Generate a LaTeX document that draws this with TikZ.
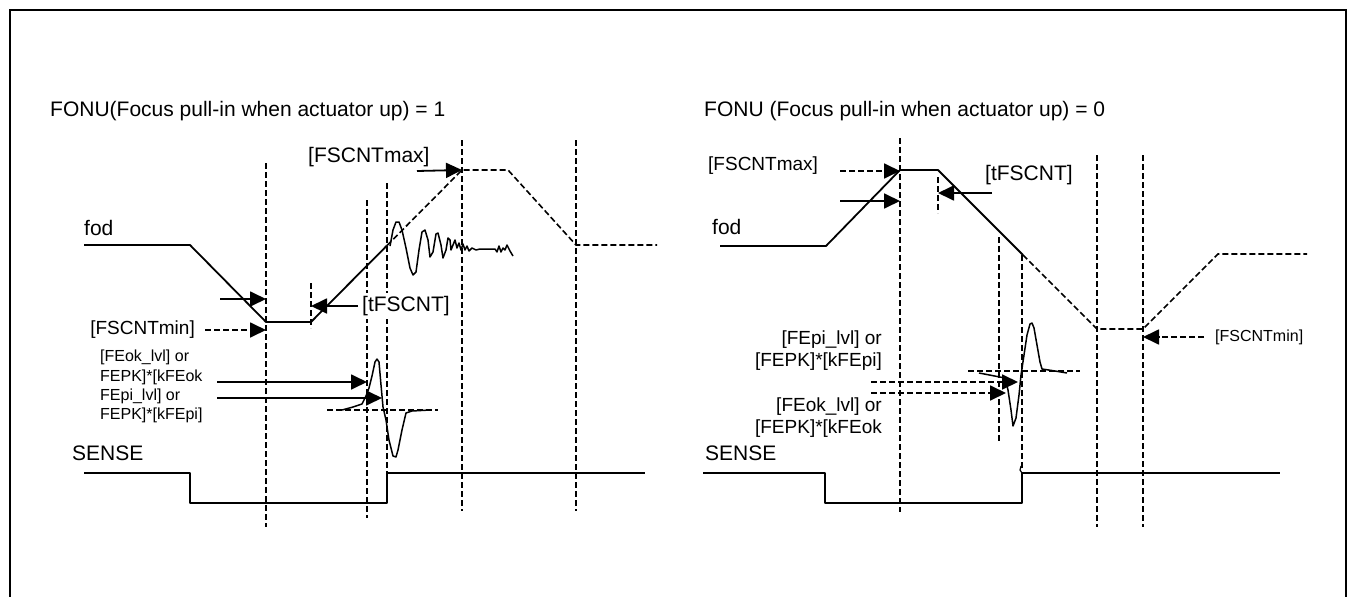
\documentclass[tikz,border=0pt]{standalone}
\usepackage{fontspec}
\setmainfont{Liberation Sans}
\usetikzlibrary{arrows.meta}
\begin{document}
\begin{tikzpicture}[x=1pt,y=-1pt,
  sig/.style={line width=1.8pt, line join=round},
  wave/.style={line width=1.5pt, line join=round},
  dsig/.style={line width=1.6pt, dash pattern=on 6pt off 3pt},
  vline/.style={line width=1.5pt, dash pattern=on 6pt off 3pt},
  arr/.style={line width=1.8pt, -{Triangle[length=16pt,width=15pt]}},
  darr/.style={arr, dash pattern=on 6pt off 3pt},
  big/.style={inner sep=0pt, font=\fontsize{21}{24}\selectfont},
  mid/.style={inner sep=0pt, font=\fontsize{19}{22}\selectfont},
  small/.style={inner sep=0pt, font=\fontsize{16}{19}\selectfont},
]
\useasboundingbox (0,0) rectangle (1358,597);
\draw[line width=2pt] (10,605) -- (10,10) -- (1346,10) -- (1346,605);

% ================= LEFT PANEL =================
\node[big, anchor=west] (t1) at (50,111) {FONU(Focus pull-in when actuator up) = 1};
\node[big, anchor=west] (fodL) at (84,228) {fod};
\node[big, anchor=west] (senseL) at (72,453) {SENSE};

% vertical dashed lines
\draw[vline] (266,163) -- (266,527);
\draw[vline] (311,283) -- (311,328);
\draw[vline] (367,200) -- (367,518);
\draw[vline] (387,183) -- (387,503);
\draw[vline] (462,140) -- (462,511);
\draw[vline] (576,140) -- (576,511);

% fod signal
\coordinate (Lmax) at (462,170);
\coordinate (Lpi) at (387,245.5);
\draw[sig] (84,245) -- (190,245) -- (266,322) -- (311,322) -- (Lpi);
\draw[dsig] (Lpi) -- (Lmax) -- (508,170) -- (576,245) -- (657,245);

% noise after pull-in
\draw[wave] (390,246) -- (393,230) -- (396,222) -- (399,222) -- (402,230) -- (406,248) -- (410,268)
  -- (413,275) -- (416,272) -- (419,250) -- (422,232) -- (425,230) -- (428,240) -- (430,257)
  -- (433,252) -- (436,234) -- (438,233) -- (441,245) -- (443,258) -- (446,250) -- (448,238)
  -- (450,240) -- (451,250) -- (453,245) -- (455,240) -- (457,248) -- (459,243) -- (461,250)
  -- (463,244) -- (465,250) -- (467,246) -- (469,251) -- (472,248) -- (476,250) -- (480,249)
  -- (495,249) -- (497,252) -- (499,246) -- (501,252) -- (503,248) -- (505,250) -- (507,245)
  -- (510,251) -- (513,256);

% arrows
\coordinate (aL1s) at (220,299); \coordinate (aL1e) at (266,299);
\draw[arr] (aL1s) -- (aL1e);
\node[mid, anchor=east] (minL) at (195,330) {[FSCNTmin]};
\coordinate (aL2e) at (266,330);
\draw[darr] (minL.east) ++(10,0) coordinate (aL2s) -- (aL2e);
\node[big, anchor=west, fill=white, inner xsep=1pt, inner ysep=3pt] (tL) at (361,306) {[tFSCNT]};
\coordinate (aL3e) at (311,306);
\draw[arr] (tL.west) ++(-3,0) -- (aL3e);
\node[big, anchor=west] (maxL) at (308,157) {[FSCNTmax]};
\coordinate (aL4s) at (417,171);
\draw[arr] (aL4s) -- (Lmax);

% FE labels
\node[small, anchor=west] (feL1) at (100,357) {[FEok\_lvl] or};
\node[small, anchor=west] (feL2) at (100,377) {FEPK]*[kFEok};
\node[small, anchor=west] (feL3) at (100,396) {FEpi\_lvl] or};
\node[small, anchor=west] (feL4) at (100,415) {FEPK]*[kFEpi]};
\coordinate (okL) at (367,382);
\coordinate (piL) at (382,398);
\draw[arr] (217,382) -- (okL);
\draw[arr] (217,398) -- (piL);

% FE waveform
\draw[dsig] (327,410) -- (438,410);
\draw[wave] (342,410) -- (353,407) -- (362,404) -- (366,396) -- (369,388) -- (372,376) -- (375,362)
  -- (377,359) -- (379,362) -- (381,385) -- (383,407) -- (386,420) -- (389,440) -- (393,456)
  -- (396,457) -- (398,450) -- (402,430) -- (406,413) -- (412,411) -- (430,410);

% SENSE
\draw[sig] (84,473) -- (190,473) -- (190,503) -- (387,503) -- (387,473) -- (645,473);

% ================= RIGHT PANEL =================
\node[big, anchor=west] (t2) at (704,111) {FONU (Focus pull-in when actuator up) = 0};
\node[big, anchor=west] (fodR) at (712,227) {fod};
\node[big, anchor=west] (senseR) at (705,453) {SENSE};

% vertical dashed lines
\draw[vline] (900,138) -- (900,512);
\draw[vline] (938,177) -- (938,213);
\draw[vline] (999,237) -- (999,443);
\draw[vline] (1022,255) -- (1022,468);
\draw[vline] (1097,155) -- (1097,527);
\draw[vline] (1143,155) -- (1143,527);

% fod signal
\coordinate (Rmax) at (900,170);
\coordinate (Rfall) at (1023,255);
\coordinate (Rmin) at (1143,329);
\draw[sig] (720,246) -- (826,246) -- (Rmax) -- (938,170) -- (Rfall);
\draw[dsig] (Rfall) -- (1097,329) -- (Rmin) -- (1218,254) -- (1307,254);

% arrows
\node[mid, anchor=west] (maxR) at (708,166) {[FSCNTmax]};
\draw[darr] (840,171) -- (Rmax |- 0,171);
\draw[arr] (840,201) -- (900,201);
\node[big, anchor=west] (tR) at (985,175) {[tFSCNT]};
\draw[arr] (992,193) -- (938,193);
\node[small, anchor=west] (minR) at (1215,337) {[FSCNTmin]};
\draw[darr] (1204,337) -- (1143,337);

% FE labels
\node[mid, anchor=east] (feR1) at (882,340) {[FEpi\_lvl] or};
\node[mid, anchor=east] (feR2) at (882,362) {[FEPK]*[kFEpi]};
\node[mid, anchor=east] (feR3) at (882,407) {[FEok\_lvl] or};
\node[mid, anchor=east] (feR4) at (882,429) {[FEPK]*[kFEok};
\draw[darr] (871,382) -- (1018,382);
\draw[darr] (871,393) -- (1006,393);

% FE waveform
\draw[dsig] (968,371) -- (1080,371);
\draw[wave] (979,373) -- (1005,378) -- (1008,390) -- (1011,410) -- (1013,426) -- (1016,418)
  -- (1019,395) -- (1021,375) -- (1024,355) -- (1027,335) -- (1030,324) -- (1032,323)
  -- (1034,328) -- (1037,345) -- (1040,362) -- (1042,369) -- (1055,371) -- (1067,373);

% SENSE
\draw[sig] (703,473) -- (825,473) -- (825,503) -- (1022,503) -- (1022,473) -- (1280,473);
\draw[line width=1.2pt] (1022,473) -- (1020,470) -- (1021,466);

\end{tikzpicture}
\end{document}
